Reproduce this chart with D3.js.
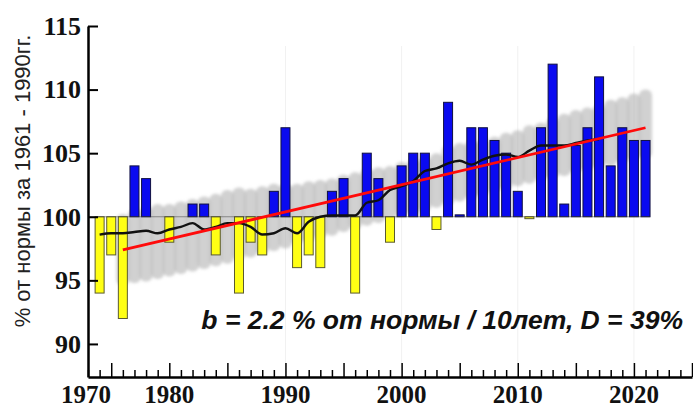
<!DOCTYPE html>
<html>
<head>
<meta charset="utf-8">
<script src="https://cdn.jsdelivr.net/npm/d3@7/dist/d3.min.js"></script>
<style>
  html, body { margin: 0; padding: 0; background: #fff; }
  svg { display: block; }
</style>
</head>
<body>
<svg id="chart" width="693" height="410"></svg>
<script>
// Annual values, % of the 1961–1990 normal
const years = [1974, 1975, 1976, 1977, 1978, 1979, 1980, 1981, 1982, 1983,
  1984, 1985, 1986, 1987, 1988, 1989, 1990, 1991, 1992, 1993,
  1994, 1995, 1996, 1997, 1998, 1999, 2000, 2001, 2002, 2003,
  2004, 2005, 2006, 2007, 2008, 2009, 2010, 2011, 2012, 2013,
  2014, 2015, 2016, 2017, 2018, 2019, 2020, 2021];
const values = [94, 97, 92, 104, 103, 100, 98, 100, 101, 101,
  97, 100, 94, 98, 97, 102, 107, 96, 97, 96,
  102, 103, 94, 105, 103, 98, 104, 105, 105, 99,
  109, 100.15, 107, 107, 106, 105, 102, 99.85, 107, 112,
  101, 105.6, 107, 111, 104, 107, 106, 106];

// Smoothed course (moving average)
const smoothYears = [1974, 1975, 1976, 1977, 1978, 1979, 1980, 1981, 1982, 1983,
  1984, 1985, 1986, 1987, 1988, 1989, 1990, 1991, 1992, 1993,
  1994, 1995, 1996, 1997, 1998, 1999, 2000, 2001, 2002, 2003,
  2004, 2005, 2006, 2007, 2008, 2009, 2010, 2011, 2012, 2013,
  2014, 2015, 2016, 2017];
const smoothValues = [98.6, 98.7, 98.7, 98.8, 98.9, 98.7, 99.0, 99.2, 99.5, 99.0,
  99.2, 99.5, 99.5, 99.2, 98.6, 98.7, 99.1, 98.7, 99.6, 100.0,
  100.1, 100.1, 100.1, 101.1, 101.3, 102.1, 102.4, 102.8, 103.6, 103.8,
  104.2, 104.4, 104.1, 104.5, 104.8, 104.9, 104.7, 105.2, 105.6, 105.6,
  105.6, 105.8, 106.0, 106.1];

// Linear trend: b = 2.2 % per decade
const trendYears = [1976, 2021];
const trendValues = [97.4, 107.0];

// Spread of the model ensemble around the trend
const bandYears = [1976, 1977, 1978, 1979, 1980, 1981, 1982, 1983, 1984, 1985,
  1986, 1987, 1988, 1989, 1990, 1991, 1992, 1993, 1994, 1995,
  1996, 1997, 1998, 1999, 2000, 2001, 2002, 2003, 2004, 2005,
  2006, 2007, 2008, 2009, 2010, 2011, 2012, 2013, 2014, 2015,
  2016, 2017, 2018, 2019, 2020, 2021];
const bandHigh = [100.2, 100.6, 100.8, 101.0, 101.0, 101.2, 101.4, 101.6, 101.8, 102.1,
  102.3, 102.2, 102.4, 102.6, 102.6, 102.6, 102.8, 102.9, 103.0, 103.3,
  103.5, 103.8, 103.9, 104.0, 104.3, 104.5, 104.7, 105.0, 105.6, 105.8,
  106.0, 106.1, 106.3, 106.6, 106.8, 107.2, 107.4, 107.8, 108.1, 108.4,
  108.6, 108.8, 109.2, 109.4, 109.7, 110.0];
const bandLow = [94.6, 94.8, 94.9, 95.1, 95.3, 95.5, 95.7, 95.9, 96.1, 96.3,
  96.6, 96.8, 97.0, 97.3, 97.5, 97.8, 98.0, 98.3, 98.5, 98.8,
  99.0, 99.3, 99.5, 99.7, 100.0, 100.2, 100.4, 100.7, 100.9, 101.2,
  101.4, 101.6, 101.9, 102.1, 102.4, 102.6, 102.8, 103.0, 103.2, 103.4,
  103.6, 103.8, 104.0, 104.2, 104.4, 104.6];

const yTicks = [90, 95, 100, 105, 110, 115];
const xLabelYears = [1970, 1980, 1990, 2000, 2010, 2020];
const gridYears = [1990, 2000, 2010, 2020];
const baseline = 100;
const yTitle = "% от нормы за 1961 - 1990гг.";
const note = "b = 2.2 % от нормы / 10лет, D = 39%";

const svg = d3.select("#chart");

const x = d3.scaleLinear().domain([1973, 2025]).range([88, 692]);
const y = d3.scaleLinear().domain([87.4, 115]).range([377, 26]);
const barW = 9;

// faint decade grid
svg.append("g").selectAll("line").data(gridYears).join("line")
  .attr("x1", d => x(d)).attr("x2", d => x(d))
  .attr("y1", y(115) + 20).attr("y2", y.range()[0])
  .attr("stroke", "#f1f1f1").attr("stroke-width", 1);

// ensemble spread
const defs = svg.append("defs");
defs.append("filter").attr("id", "soft")
  .attr("x", "-50%").attr("y", "-20%").attr("width", "200%").attr("height", "140%")
  .append("feGaussianBlur").attr("stdDeviation", 1.4);

const band = bandYears.map((yr, i) => ({ yr, lo: bandLow[i], hi: bandHigh[i] }));
svg.append("g").attr("filter", "url(#soft)")
  .selectAll("rect").data(band).join("rect")
  .attr("x", d => x(d.yr) - 6.5)
  .attr("width", 13)
  .attr("y", d => y(d.hi))
  .attr("height", d => y(d.lo) - y(d.hi))
  .attr("rx", 6).attr("ry", 6)
  .attr("fill", "#b0b0b0")
  .attr("fill-opacity", 0.58);

// annual bars relative to the normal
const bars = years.map((yr, i) => ({ yr, v: values[i] }));
svg.append("g").selectAll("rect").data(bars.filter(d => d.v !== baseline)).join("rect")
  .attr("x", d => x(d.yr) - barW / 2)
  .attr("width", barW)
  .attr("y", d => y(Math.max(d.v, baseline)))
  .attr("height", d => Math.max(1, Math.abs(y(d.v) - y(baseline))))
  .attr("fill", d => d.v > baseline ? "#0a0af0" : "#ffff14")
  .attr("stroke", d => d.v > baseline ? "#101040" : "#5a5a30")
  .attr("stroke-width", 1);

// norm level
svg.append("line")
  .attr("x1", x(1973)).attr("x2", x(2021) + barW / 2)
  .attr("y1", y(baseline)).attr("y2", y(baseline))
  .attr("stroke", "#333").attr("stroke-width", 0.8).attr("stroke-opacity", 0.6);

// smoothed line
const line = d3.line().x(d => x(d[0])).y(d => y(d[1])).curve(d3.curveMonotoneX);
svg.append("path")
  .datum(smoothYears.map((yr, i) => [yr, smoothValues[i]]))
  .attr("d", line)
  .attr("fill", "none").attr("stroke", "#111").attr("stroke-width", 2.4);

// trend
svg.append("path")
  .datum(trendYears.map((yr, i) => [yr, trendValues[i]]))
  .attr("d", d3.line().x(d => x(d[0])).y(d => y(d[1])))
  .attr("fill", "none").attr("stroke", "#ff0a0a").attr("stroke-width", 2.8);

// y axis
const yAxis = svg.append("g").attr("transform", `translate(${x(1973)},0)`)
  .call(d3.axisLeft(y).tickValues(yTicks).tickFormat(d3.format("d"))
    .tickSizeInner(-10).tickSizeOuter(0).tickPadding(7));
yAxis.select(".domain").attr("stroke", "#000").attr("stroke-width", 2.5);
yAxis.selectAll(".tick line").attr("stroke", "#000").attr("stroke-width", 2);
yAxis.selectAll(".tick text")
  .attr("font-family", "'Liberation Serif', 'Times New Roman', serif")
  .attr("font-weight", "bold").attr("font-size", 26).attr("fill", "#111");

// x axis with yearly ticks, longer every five years
const tickYears = d3.range(1973, 2026);
const xAxis = svg.append("g").attr("transform", `translate(0,${y.range()[0]})`)
  .call(d3.axisBottom(x).tickValues(tickYears).tickFormat("")
    .tickSizeInner(-7).tickSizeOuter(0));
xAxis.select(".domain").attr("stroke", "#000").attr("stroke-width", 2.5);
xAxis.selectAll(".tick line").attr("stroke", "#000").attr("stroke-width", 1.5)
  .attr("y2", d => d % 5 === 0 ? -14 : -7);

const xl = x.copy().clamp(true);
svg.append("g").selectAll("text").data(xLabelYears).join("text")
  .attr("x", d => xl(d) - (d === 1970 ? 2 : 0))
  .attr("y", 403)
  .attr("text-anchor", "middle")
  .attr("font-family", "'Liberation Serif', 'Times New Roman', serif")
  .attr("font-weight", "bold").attr("font-size", 25).attr("fill", "#111")
  .text(d => d);

// axis title
svg.append("text")
  .attr("transform", `translate(30,181) rotate(-90)`)
  .attr("text-anchor", "middle")
  .attr("font-family", "'Liberation Sans', Arial, sans-serif")
  .attr("font-size", 22).attr("fill", "#222")
  .text(yTitle);

// trend annotation
svg.append("text")
  .attr("x", 683).attr("y", 329)
  .attr("text-anchor", "end")
  .attr("font-family", "'Liberation Sans', Arial, sans-serif")
  .attr("font-weight", "bold").attr("font-style", "italic")
  .attr("font-size", 26.5).attr("fill", "#111")
  .text(note);
</script>
</body>
</html>
